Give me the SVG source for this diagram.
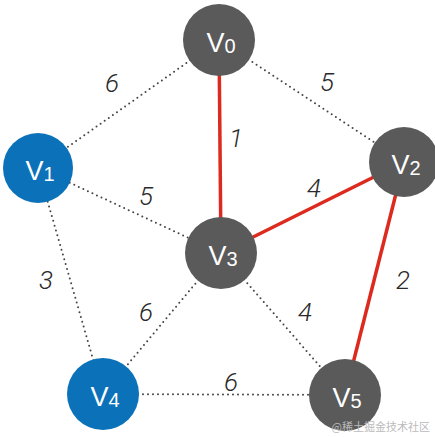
<svg xmlns="http://www.w3.org/2000/svg" width="435" height="437" viewBox="0 0 435 437">
<style>
.dot{stroke:#444;stroke-width:2;stroke-dasharray:0 5;stroke-linecap:round;fill:none}
.red{stroke:#dc2a1e;stroke-width:3.5;fill:none}
.g{fill:#5a5a5a}
.b{fill:#0b71b9}
.lbl{font-family:"Helvetica Neue","Liberation Sans",Arial,sans-serif;fill:#fff;font-size:27px;text-anchor:middle}
.sub{font-size:20px}
.w{font-family:Roboto,"Liberation Sans",Arial,sans-serif;font-weight:300;font-style:italic;font-size:26px;fill:#2a2a2a;text-anchor:middle}
</style>
<rect width="435" height="437" fill="#fff"/>
<g id="connectors">
<line class="dot" x1="219" y1="40" x2="38" y2="168"/>
<line class="dot" x1="219" y1="40" x2="404" y2="162"/>
<line class="dot" x1="38" y1="168" x2="221" y2="253"/>
<line class="dot" x1="38" y1="168" x2="103" y2="394"/>
<line class="dot" x1="221" y1="253" x2="103" y2="394"/>
<line class="dot" x1="221" y1="253" x2="345" y2="395"/>
<line class="dot" x1="103" y1="394" x2="345" y2="395"/>
<line class="red" x1="219" y1="40" x2="221" y2="253"/>
<line class="red" x1="221" y1="253" x2="404" y2="162"/>
<line class="red" x1="404" y1="162" x2="345" y2="395"/>
<text class="w" x="112" y="92">6</text>
<text class="w" x="327" y="91">5</text>
<text class="w" x="236" y="147">1</text>
<text class="w" x="146" y="205">5</text>
<text class="w" x="314" y="197">4</text>
<text class="w" x="46" y="289">3</text>
<text class="w" x="403" y="289">2</text>
<text class="w" x="146" y="321">6</text>
<text class="w" x="305" y="321">4</text>
<text class="w" x="231" y="391">6</text>
</g>
<g id="V0"><circle class="g" cx="219" cy="40" r="36"/><text class="lbl" x="221" y="52">V<tspan class="sub" dy="1">0</tspan></text></g>
<g id="V1"><circle class="b" cx="38" cy="168" r="35"/><text class="lbl" x="40" y="180">V<tspan class="sub" dy="1">1</tspan></text></g>
<g id="V2"><circle class="g" cx="404" cy="162" r="35"/><text class="lbl" x="406" y="174">V<tspan class="sub" dy="1">2</tspan></text></g>
<g id="V3"><circle class="g" cx="221" cy="253" r="36"/><text class="lbl" x="223" y="265">V<tspan class="sub" dy="1">3</tspan></text></g>
<g id="V4"><circle class="b" cx="103" cy="394" r="36"/><text class="lbl" x="105" y="406">V<tspan class="sub" dy="1">4</tspan></text></g>
<g id="V5"><circle class="g" cx="345" cy="395" r="36"/><text class="lbl" x="347" y="407">V<tspan class="sub" dy="1">5</tspan></text></g>
<text x="430" y="431" font-family="'Noto Sans CJK SC',sans-serif" font-size="11" fill="#bbb" text-anchor="end">@稀土掘金技术社区</text>
</svg>
